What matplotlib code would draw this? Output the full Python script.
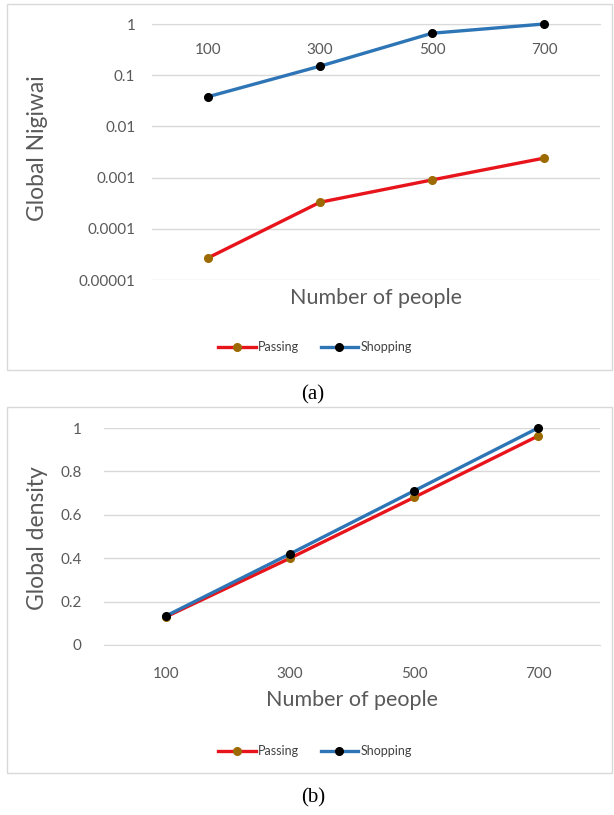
import matplotlib
matplotlib.use("Agg")
import matplotlib.pyplot as plt
from matplotlib.patches import Rectangle
from matplotlib.lines import Line2D

W, H = 614, 815
people = ["100", "300", "500", "700"]
nigiwai_passing = [2.7e-5, 3.3e-4, 9.0e-4, 2.4e-3]
nigiwai_shopping = [0.038, 0.15, 0.66, 1.0]
density_passing = [0.13, 0.40, 0.68, 0.963]
density_shopping = [0.134, 0.42, 0.71, 1.0]
log_ticks = [1e-5, 1e-4, 1e-3, 1e-2, 1e-1, 1]
log_labels = ["0.00001", "0.0001", "0.001", "0.01", "0.1", "1"]
lin_ticks = [0, 0.2, 0.4, 0.6, 0.8, 1]
lin_labels = ["0", "0.2", "0.4", "0.6", "0.8", "1"]

FONT = "Lato"
TXT = "#595959"
GRID = "#d9d9d9"
RED = "#e8141b"
BLUE = "#2e75b6"
BROWN = "#9c6a00"

fig = plt.figure(figsize=(W / 100, H / 100), dpi=100)


def rect(x0, y0, x1, y1):
    return [x0 / W, 1 - y1 / H, (x1 - x0) / W, (y1 - y0) / H]


def border(x0, y0, x1, y1):
    fig.patches.append(Rectangle((x0 / W, 1 - y1 / H), (x1 - x0) / W, (y1 - y0) / H,
                                 transform=fig.transFigure, fill=False,
                                 edgecolor=GRID, lw=1.0))


def style(ax):
    for s in ["top", "left", "right"]:
        ax.spines[s].set_visible(False)
    ax.spines["bottom"].set_color(GRID)
    ax.grid(axis="y", color=GRID, lw=1.0)
    ax.set_axisbelow(True)
    ax.tick_params(length=0, labelsize=11, labelcolor=TXT)
    for lab in ax.get_xticklabels() + ax.get_yticklabels():
        lab.set_fontfamily(FONT)
    ax.set_xlim(-0.5, 3.5)


def plot_series(ax, p, s):
    x = list(range(len(people)))
    ax.plot(x, p, color=RED, lw=2.4, marker="o", ms=5.5, mfc=BROWN, mec=BROWN,
            clip_on=False, zorder=3)
    ax.plot(x, s, color=BLUE, lw=2.4, marker="o", ms=5.5, mfc="black", mec="black",
            clip_on=False, zorder=4)
    ax.set_xticks(x)
    ax.set_xticklabels(people)


def legend(cy):
    handles = [Line2D([], [], color=RED, lw=2.4, marker="o", ms=5.5, mfc=BROWN, mec=BROWN),
               Line2D([], [], color=BLUE, lw=2.4, marker="o", ms=5.5, mfc="black", mec="black")]
    fig.legend(handles, ["Passing", "Shopping"], loc="center",
               bbox_to_anchor=(315 / W, 1 - cy / H), ncol=2, frameon=False,
               prop={"family": FONT, "size": 9}, labelcolor="#404040",
               handlelength=3.0, handletextpad=0.2, columnspacing=1.7)


# ---- panel (a) ----
border(7, 4, 612, 370)
ax1 = fig.add_axes(rect(152, 24, 600, 280))
ax1.set_yscale("log")
ax1.set_ylim(1e-5, 1)
plot_series(ax1, nigiwai_passing, nigiwai_shopping)
ax1.set_yticks(log_ticks)
ax1.set_yticklabels(log_labels)
ax1.yaxis.set_minor_locator(matplotlib.ticker.NullLocator())
ax1.spines["bottom"].set_position(("data", 1))
style(ax1)
ax1.tick_params(axis="x", pad=14)
ax1.tick_params(axis="y", pad=12)
fig.text(38 / W, 1 - 148 / H, "Global Nigiwai", rotation=90, ha="center", va="center",
         family=FONT, fontsize=16.5, color=TXT)
fig.text(376 / W, 1 - 298 / H, "Number of people", ha="center", va="center",
         family=FONT, fontsize=15.5, color=TXT)
legend(347)
fig.text(313 / W, 1 - 395 / H, "(a)", ha="center", va="center",
         family="Liberation Serif", fontsize=15, color="black")

# ---- panel (b) ----
border(7, 407, 612, 773)
ax2 = fig.add_axes(rect(104, 428, 600, 645))
ax2.set_ylim(0, 1)
plot_series(ax2, density_passing, density_shopping)
ax2.set_yticks(lin_ticks)
ax2.set_yticklabels(lin_labels)
style(ax2)
ax2.tick_params(axis="x", pad=16)
ax2.tick_params(axis="y", pad=16)
fig.text(38 / W, 1 - 538 / H, "Global density", rotation=90, ha="center", va="center",
         family=FONT, fontsize=16.5, color=TXT)
fig.text(352 / W, 1 - 700 / H, "Number of people", ha="center", va="center",
         family=FONT, fontsize=15.5, color=TXT)
legend(751)
fig.text(313 / W, 1 - 798 / H, "(b)", ha="center", va="center",
         family="Liberation Serif", fontsize=15, color="black")

fig.savefig("out.png", dpi=100)
